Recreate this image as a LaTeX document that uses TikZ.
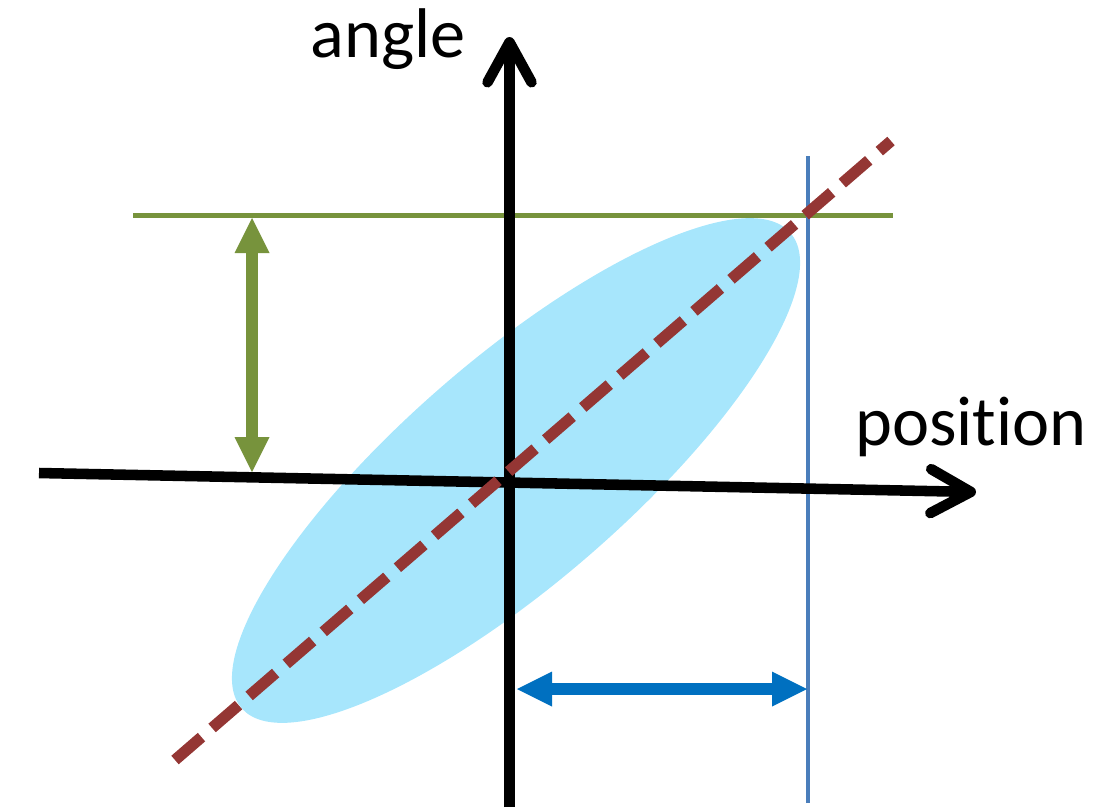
\documentclass[tikz,border=0pt]{standalone}
\usepackage{fontspec}
\setmainfont{Carlito}
\usetikzlibrary{arrows.meta,shapes.geometric}
\definecolor{ink}{HTML}{000000}
\definecolor{cloud}{HTML}{A7E6FC}
\definecolor{cgrn}{HTML}{77933C}
\definecolor{cblu}{HTML}{4A7EBB}
\definecolor{cspan}{HTML}{0070C0}
\definecolor{cfit}{HTML}{943634}
\tikzset{
  axis/.style={-{Straight Barb[length=4mm,width=4.4mm,round]}, line width=3pt, draw=ink},
  lbl/.style={font=\fontsize{20}{24}\selectfont, anchor=base, inner sep=0pt},
  beam/.style={ellipse, fill=cloud, draw=none, inner sep=0pt},
  cut/.style={line width=1.2pt, draw=cgrn},
  lim/.style={line width=1.4pt, draw=cblu},
  dbl/.style={{Triangle[length=3.5mm,width=3.5mm,line width=0pt]}-{Triangle[length=3.5mm,width=3.5mm,line width=0pt]},
              line width=3.4pt},
  fitline/.style={line width=3.2pt, draw=cfit, dash pattern=on 3.5mm off 1.4mm},
}

\begin{document}
\begin{tikzpicture}
\useasboundingbox (0,0) rectangle (11.01,8.07);
  % phase-space ellipse
  \node[beam, minimum width=7.26cm, minimum height=2.24cm, rotate=40.9] (bm) at (5.16,3.365) {};
  % end points
  \coordinate (xl) at (0.39,3.34);
  \coordinate (xr) at (9.76,3.15);
  \coordinate (yb) at (5.095,0);
  \coordinate (yt) at (5.095,7.70);
  \coordinate (gl) at (1.33,5.915);
  \coordinate (gr) at (8.93,5.915);
  \coordinate (lb) at (8.08,0.04);
  \coordinate (lt) at (8.08,6.51);
  \coordinate (ga) at (2.52,5.89);
  \coordinate (gb) at (2.52,3.35);
  \coordinate (sa) at (5.17,1.18);
  \coordinate (sb) at (8.07,1.18);
  \coordinate (fa) at (1.75,0.47);
  \coordinate (fb) at (8.91,6.66);
  % limits
  \draw[cut] (gl) -- (gr);
  \draw[lim] (lb) -- (lt);
  % axes
  \draw[axis] (xl) -- (xr);
  \draw[axis] (yb) -- (yt);
  \node[lbl] (ang) at (3.88,7.50) {angle};
  \node[lbl] (pos) at (9.71,3.62) {posit\kern0pt ion};
  % correlation
  \draw[fitline] (fa) -- (fb);
  % spreads
  \draw[dbl, cgrn] (ga) -- (gb);
  \draw[dbl, cspan] (sa) -- (sb);
\end{tikzpicture}
\end{document}
